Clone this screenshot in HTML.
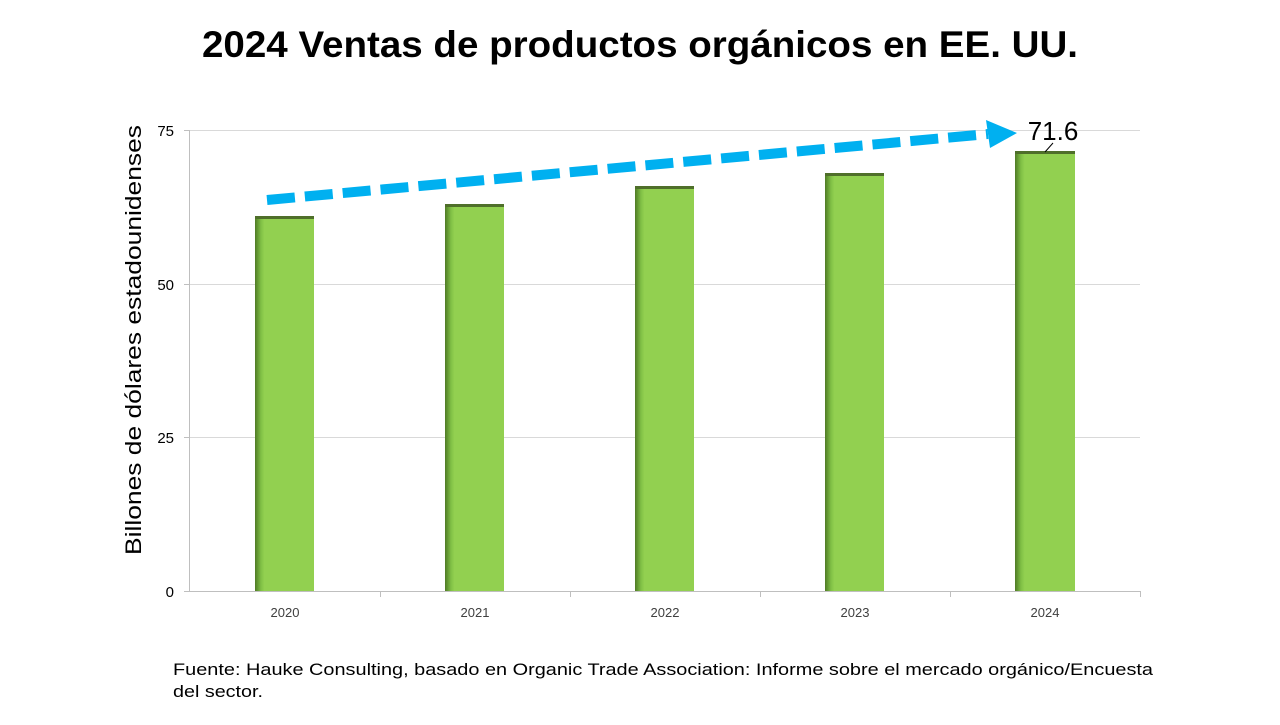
<!DOCTYPE html>
<html><head><meta charset="utf-8"><style>
body{margin:0;width:1280px;height:720px;background:#fff;overflow:hidden;font-family:"Liberation Sans",sans-serif}
</style></head><body>
<svg width="1280" height="720" xmlns="http://www.w3.org/2000/svg">
<defs>
<linearGradient id="g" x1="0" x2="1" y1="0" y2="0">
<stop offset="0" stop-color="#4f7a25"/><stop offset="0.1" stop-color="#7fbf45"/><stop offset="0.16" stop-color="#92d050"/><stop offset="1" stop-color="#92d050"/>
</linearGradient>
</defs>
<text x="202" y="57" font-size="37" font-weight="bold" fill="#000" textLength="876" lengthAdjust="spacingAndGlyphs">2024 Ventas de productos orgánicos en EE. UU.</text>
<g stroke="#d9d9d9" stroke-width="1">
<line x1="190" y1="130.5" x2="1140" y2="130.5"/>
<line x1="190" y1="284.5" x2="1140" y2="284.5"/>
<line x1="190" y1="437.5" x2="1140" y2="437.5"/>
</g>
<g stroke="#bfbfbf" stroke-width="1">
<line x1="189.5" y1="130" x2="189.5" y2="591"/>
<line x1="189" y1="591.5" x2="1140" y2="591.5"/>
<line x1="184" y1="130.5" x2="190" y2="130.5"/>
<line x1="184" y1="284.5" x2="190" y2="284.5"/>
<line x1="184" y1="437.5" x2="190" y2="437.5"/>
<line x1="184" y1="591.5" x2="190" y2="591.5"/>
<line x1="380.5" y1="591" x2="380.5" y2="597"/>
<line x1="570.5" y1="591" x2="570.5" y2="597"/>
<line x1="760.5" y1="591" x2="760.5" y2="597"/>
<line x1="950.5" y1="591" x2="950.5" y2="597"/>
<line x1="1140.5" y1="591" x2="1140.5" y2="597"/>
</g>
<g font-size="15" fill="#000" text-anchor="end">
<text x="174" y="136">75</text><text x="174" y="290">50</text><text x="174" y="443">25</text><text x="174" y="597">0</text>
</g>
<g>
<rect x="255" y="217" width="59" height="374" fill="url(#g)"/><rect x="255" y="216" width="59" height="3" fill="#4f6f2a"/>
<rect x="445" y="205" width="59" height="386" fill="url(#g)"/><rect x="445" y="204" width="59" height="3" fill="#4f6f2a"/>
<rect x="635" y="187" width="59" height="404" fill="url(#g)"/><rect x="635" y="186" width="59" height="3" fill="#4f6f2a"/>
<rect x="825" y="174" width="59" height="417" fill="url(#g)"/><rect x="825" y="173" width="59" height="3" fill="#4f6f2a"/>
<rect x="1015" y="152" width="60" height="439" fill="url(#g)"/><rect x="1015" y="151" width="60" height="3" fill="#4f6f2a"/>
</g>
<g font-size="13" fill="#404040" text-anchor="middle">
<text x="285" y="617">2020</text><text x="475" y="617">2021</text><text x="665" y="617">2022</text><text x="855" y="617">2023</text><text x="1045" y="617">2024</text>
</g>
<line x1="267" y1="200" x2="988" y2="134" stroke="#00b0f0" stroke-width="10" stroke-dasharray="28,10"/>
<polygon points="986,120 1017,133 990,148" fill="#00b0f0"/>
<line x1="1045" y1="152" x2="1053" y2="143" stroke="#000" stroke-width="1"/>
<text x="1053" y="140" font-size="26" text-anchor="middle" fill="#000">71.6</text>
<text transform="translate(141,555) rotate(-90)" font-size="22" fill="#000" textLength="430" lengthAdjust="spacingAndGlyphs">Billones de dólares estadounidenses</text>
<text x="173" y="675" font-size="17" fill="#000" textLength="980" lengthAdjust="spacingAndGlyphs">Fuente: Hauke Consulting, basado en Organic Trade Association: Informe sobre el mercado orgánico/Encuesta</text>
<text x="173" y="697" font-size="17" fill="#000" textLength="90" lengthAdjust="spacingAndGlyphs">del sector.</text>
</svg>
</body></html>
